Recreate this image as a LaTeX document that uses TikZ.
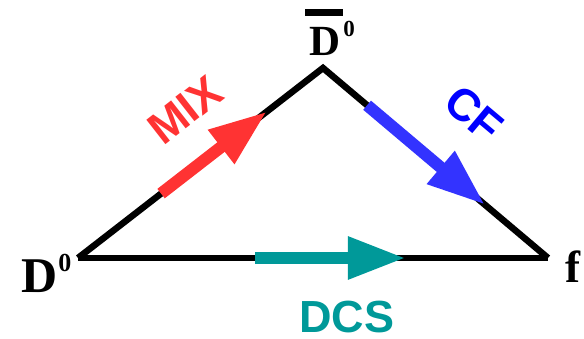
\documentclass[tikz,border=0pt]{standalone}
\usepackage{fontspec}
\setmainfont{Liberation Serif}
\newfontfamily\labelsans{Liberation Sans}
\usetikzlibrary{arrows.meta,calc}
\definecolor{mixred}{RGB}{255,51,51}
\definecolor{cfblue}{RGB}{51,51,255}
\definecolor{cftext}{RGB}{0,0,255}
\definecolor{dcsteal}{RGB}{0,153,153}
\begin{document}
\begin{tikzpicture}[x=1pt,y=-1pt,
  edge/.style={line width=6.5pt, black},
  flow/.style={line width=12pt, -{Triangle[length=58pt,width=40pt]}},
  vlabel/.style={inner sep=0pt, font=\bfseries},
  plabel/.style={inner sep=0pt, font=\labelsans\bfseries\fontsize{45}{45}\selectfont}]
\useasboundingbox (0,0) rectangle (584,339);
\coordinate (A) at (78,258);
\coordinate (B) at (323,68);
\coordinate (C) at (548,258);
\draw[edge, miter limit=10] (A) -- (B) -- (C);
\draw[edge] (A) -- (C);
\draw[flow, mixred] ($(A)!0.339!(B)$) -- ($(A)!0.771!(B)$);
\draw[flow, cfblue] ($(B)!0.196!(C)$) -- ($(B)!0.72!(C)$);
\draw[flow, dcsteal] ($(A)!0.3766!(C)$) -- ($(A)!0.6975!(C)$);
\node[plabel, mixred, rotate=38] (mix) at (185,110) {MIX};
\node[plabel, cftext, rotate=-40] (cf) at (474,114) {CF};
\node[plabel, dcsteal] (dcs) at (347,317) {DCS};
\node[vlabel, anchor=base west] (d0) at (21,293)
  {\fontsize{50}{50}\selectfont D\kern1pt\raisebox{21pt}{\fontsize{26}{26}\selectfont 0}};
\node[vlabel, anchor=base west] (d0bar) at (309,56)
  {\fontsize{43}{43}\selectfont\makebox[0pt][l]{\hspace{-4pt}\rule[40pt]{38pt}{7pt}}D\kern3pt\raisebox{19pt}{\fontsize{23}{23}\selectfont 0}};
\node[vlabel, anchor=base west] (f) at (565,283) {\fontsize{45}{45}\selectfont f};
\end{tikzpicture}
\end{document}
